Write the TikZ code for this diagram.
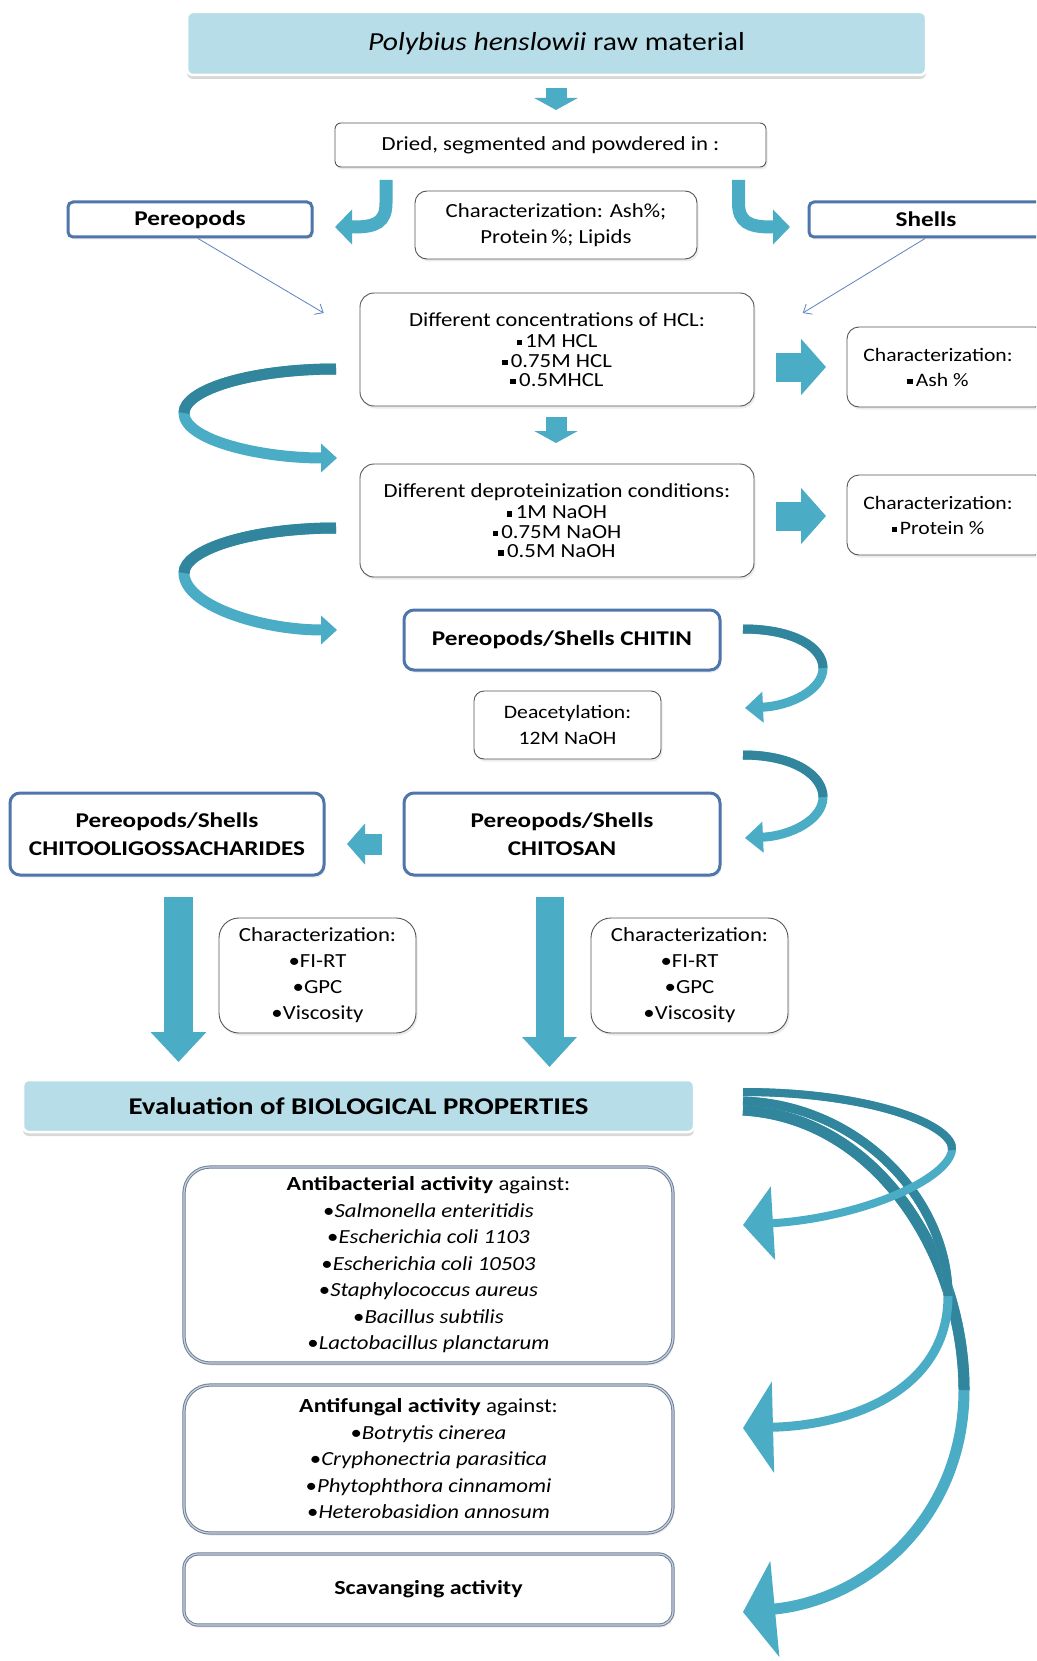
\documentclass[tikz,border=0pt]{standalone}
\usepackage{fontspec}
\setmainfont{Carlito}[FakeStretch=1.14, BoldFeatures={FakeStretch=1.2}, BoldItalicFeatures={FakeStretch=1.2}]
\usetikzlibrary{arrows.meta,shadows,calc}
\definecolor{aqua}{RGB}{75,172,198}
\definecolor{aquadark}{RGB}{49,133,156}
\definecolor{titlefill}{RGB}{183,221,232}
\definecolor{bluebord}{RGB}{79,118,170}
\definecolor{graybord}{RGB}{85,85,85}
\definecolor{dblout}{RGB}{110,127,150}
\definecolor{dblin}{RGB}{200,210,224}
\definecolor{connblue}{RGB}{90,130,190}
\newcommand\sqbul{\raisebox{0.22ex}{\rule{0.27em}{0.27em}}\,}
\begin{document}
\begin{tikzpicture}[x=1pt,y=-1pt,
  shadowed/.style={drop shadow={opacity=0.15,shadow xshift=1.5pt,shadow yshift=-2.5pt}},
  plainbox/.style={shadowed, draw=graybord, line width=0.9pt, fill=white, align=center, inner sep=0pt, font=\fontsize{20}{24}\selectfont},
  bluebox/.style={shadowed, draw=bluebord, line width=3pt, fill=white, align=center, inner sep=0pt, font=\fontsize{21}{28}\selectfont\bfseries},
  headbox/.style={drop shadow={opacity=0.3,shadow xshift=0pt,shadow yshift=-4pt}, draw=white, line width=2.5pt, fill=titlefill, rounded corners=6pt, align=center, inner sep=0pt},
  listbox/.style={shadowed, draw=dblout, double=dblin, double distance=1.2pt, line width=1pt, fill=white, rounded corners=26pt, align=center, inner sep=0pt, font=\fontsize{20}{26.5}\selectfont},
  blockarrow/.style={aqua, line width=#1},
  ribbon/.style={aqua, line width=#1},
  ribbondark/.style={aquadark, line width=#1},
  thinconn/.style={connblue, line width=0.8pt, -{Straight Barb[length=7pt,width=12pt]}}
]
\path[use as bounding box, fill=white] (0,0) rectangle (1036,1661);
\clip (0,0) rectangle (1036,1661);

% ---------- nodes ----------
\node[headbox, minimum width=739pt, minimum height=63pt, font=\fontsize{26}{30}\selectfont] (title) at (556.5,43.5) {\textit{Polybius henslowii} raw material};
\node[plainbox, rounded corners=6pt, minimum width=431pt, minimum height=44pt, font=\fontsize{20}{25}\selectfont] (dried) at (550.5,145) {Dried, segmented and powdered in :};
\node[bluebox, rounded corners=5pt, minimum width=244pt, minimum height=35pt] (pereo) at (190,219.5) {Pereopods};
\node[bluebox, rounded corners=5pt, minimum width=234pt, minimum height=35pt] (shells) at (926,219.5) {Shells};
\node[plainbox, rounded corners=12pt, minimum width=282pt, minimum height=68pt, font=\fontsize{20}{26}\selectfont] (char1) at (556,225) {Characterization: Ash\%;\\Protein\,\%; Lipids};

\node[plainbox, rounded corners=14pt, minimum width=394pt, minimum height=113pt, font=\fontsize{20}{19.5}\selectfont] (hcl) at (557,349.5) {Different concentrations of HCL:\\[2pt]\sqbul 1M HCL\\\sqbul 0.75M HCL\\\sqbul 0.5MHCL};
\node[plainbox, rounded corners=12pt, minimum width=200pt, minimum height=80pt] (ash) at (947,367) {};
\node[font=\fontsize{19}{25}\selectfont, align=center] (ashtxt) at (938,367) {Characterization:\\\sqbul Ash \%};

\node[plainbox, rounded corners=14pt, minimum width=394pt, minimum height=113pt, font=\fontsize{20}{19.5}\selectfont] (naoh) at (557,520.5) {Different deproteinization conditions:\\[2pt]\sqbul 1M NaOH\\\sqbul 0.75M NaOH\\\sqbul 0.5M NaOH};
\node[plainbox, rounded corners=12pt, minimum width=200pt, minimum height=80pt] (prot) at (947,515) {};
\node[font=\fontsize{19}{25}\selectfont, align=center] (prottxt) at (938,515) {Characterization:\\\sqbul Protein \%};

\node[bluebox, rounded corners=10pt, minimum width=316pt, minimum height=60pt] (chitin) at (562,640) {Pereopods/Shells CHITIN};
\node[plainbox, rounded corners=10pt, minimum width=187pt, minimum height=68pt, font=\fontsize{19}{25.6}\selectfont] (deac) at (567.5,725) {Deacetylation:\\12M NaOH};
\node[bluebox, rounded corners=10pt, minimum width=316pt, minimum height=82pt] (chitosan) at (562,834) {Pereopods/Shells\\CHITOSAN};
\node[bluebox, rounded corners=10pt, minimum width=314pt, minimum height=82pt] (chitoo) at (167,834) {Pereopods/Shells\\CHITOOLIGOSSACHARIDES};

\node[plainbox, rounded corners=20pt, minimum width=197pt, minimum height=115pt, font=\fontsize{20}{26}\selectfont] (charL) at (317.5,975.5) {Characterization:\\\textbullet FI-RT\\\textbullet GPC\\\textbullet Viscosity};
\node[plainbox, rounded corners=20pt, minimum width=197pt, minimum height=115pt, font=\fontsize{20}{26}\selectfont] (charR) at (689.5,975.5) {Characterization:\\\textbullet FI-RT\\\textbullet GPC\\\textbullet Viscosity};

\node[headbox, minimum width=671pt, minimum height=52pt, font=\fontsize{24}{28}\selectfont\bfseries] (eval) at (358.5,1106) {Evaluation of BIOLOGICAL PROPERTIES};

\node[listbox, minimum width=489pt, minimum height=196pt] (antibac) at (428.5,1265) {\textbf{Antibacterial activity} against:\\\textbullet\textit{Salmonella enteritidis}\\\textbullet\textit{Escherichia coli 1103}\\\textbullet\textit{Escherichia coli 10503}\\\textbullet\textit{Staphylococcus aureus}\\\textbullet\textit{Bacillus subtilis}\\\textbullet\textit{Lactobacillus planctarum}};
\node[listbox, minimum width=489pt, minimum height=148pt] (antifun) at (428.5,1459) {\textbf{Antifungal activity} against:\\\textbullet\textit{Botrytis cinerea}\\\textbullet\textit{Cryphonectria parasitica}\\\textbullet\textit{Phytophthora cinnamomi}\\\textbullet\textit{Heterobasidion annosum}};
\node[listbox, rounded corners=14pt, minimum width=489pt, minimum height=71pt] (scav) at (428.5,1589.5) {\textbf{Scavanging activity}};

% ---------- straight block arrows ----------
\draw[blockarrow=21pt, -{Triangle[length=12pt,width=43pt]}] (556,88) -- (556,110);
\draw[blockarrow=21pt, -{Triangle[length=12pt,width=43pt]}] (556,417) -- (556,443);
\draw[blockarrow=29pt, -{Triangle[length=25pt,width=55pt]}] (776,367) -- (826,367);
\draw[blockarrow=29pt, -{Triangle[length=25pt,width=55pt]}] (776,516) -- (826,516);
\draw[blockarrow=21pt, -{Triangle[length=18pt,width=40pt]}] (382,844) -- (347,844);
\draw[blockarrow=29pt, -{Triangle[length=30pt,width=54pt]}] (178.5,897) -- (178.5,1062);
\draw[blockarrow=28pt, -{Triangle[length=30pt,width=53pt]}] (549.5,897) -- (549.5,1067);

% ---------- L-shaped arrows ----------
\draw[ribbon=13pt, -{Triangle[length=17pt,width=34pt]}] (386,180) -- (386,203) .. controls (386,222) and (376,227) .. (354,227) -- (335,227);
\draw[ribbon=13pt, -{Triangle[length=17pt,width=34pt]}] (738.5,180) -- (738.5,203) .. controls (738.5,222) and (749,227) .. (771,227) -- (790,227);

% ---------- thin connectors ----------
\coordinate (hclL) at (323.7,313);
\coordinate (hclR) at (802.8,313);
\draw[thinconn] ($(pereo.south)+(8,0)$) -- (hclL);
\draw[thinconn] ($(shells.south)+(-1,0)$) -- (hclR);

% ---------- left C ribbons ----------
\draw[ribbon=11pt, -{Triangle[length=16pt,width=28pt]}] (336,369) .. controls (250,369) and (184,390) .. (184,413) .. controls (184,440) and (260,458) .. (337,458);
\draw[ribbondark=11pt] (336,369) .. controls (250,369) and (184,390) .. (184,413);
\draw[ribbon=11pt, -{Triangle[length=16pt,width=28pt]}] (336,528) .. controls (250,528) and (184,550) .. (184,573) .. controls (184,605) and (260,630) .. (337,630);
\draw[ribbondark=11pt] (336,528) .. controls (250,528) and (184,550) .. (184,573);

% ---------- right ribbons (chitin -> chitosan) ----------
\draw[ribbon=9pt, -{Triangle[length=18pt,width=30pt]}] (743,629) .. controls (795,629) and (823,648) .. (823,668) .. controls (823,690) and (790,706) .. (745,708);
\draw[ribbondark=9pt] (743,629) .. controls (795,629) and (823,648) .. (823,668);
\draw[ribbon=9pt, -{Triangle[length=18pt,width=30pt]}] (743,755) .. controls (795,755) and (823,776) .. (823,797) .. controls (823,820) and (790,836) .. (745,838);
\draw[ribbondark=9pt] (743,755) .. controls (795,755) and (823,776) .. (823,797);

% ---------- big ribbons to activities ----------
\draw[ribbon=11pt, -{Triangle[length=32pt,width=95pt]}] (743,1110) .. controls (880,1118) and (964,1260) .. (964,1390) .. controls (964,1515) and (870,1600) .. (743,1612);
\draw[ribbondark=11pt] (743,1110) .. controls (880,1118) and (964,1260) .. (964,1390);
\draw[ribbon=9pt, -{Triangle[length=30pt,width=90pt]}] (743,1101) .. controls (860,1105) and (948,1200) .. (948,1296) .. controls (948,1385) and (860,1425) .. (743,1428);
\draw[ribbondark=9pt] (743,1101) .. controls (860,1105) and (948,1200) .. (948,1296);
\draw[ribbon=8pt, -{Triangle[length=30pt,width=72pt]}] (743,1092) .. controls (870,1092) and (955,1125) .. (952,1150) .. controls (948,1180) and (860,1218) .. (743,1225);
\draw[ribbondark=8pt] (743,1092) .. controls (870,1092) and (955,1125) .. (952,1150);
\end{tikzpicture}
\end{document}
